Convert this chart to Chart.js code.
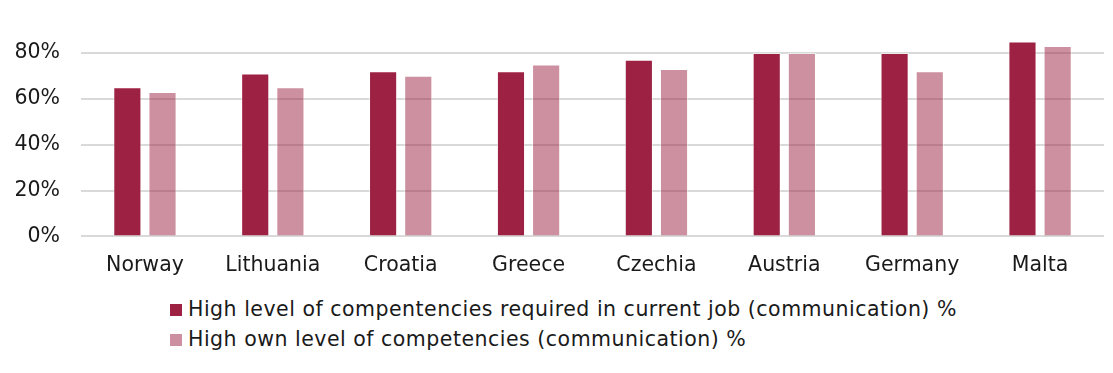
<!DOCTYPE html>
<html>
<head>
<meta charset="utf-8">
<script src="https://cdn.jsdelivr.net/npm/chart.js@4/dist/chart.umd.min.js"></script>
<style>
  body { margin: 0; background: #fff; font-family: "DejaVu Sans", Verdana, sans-serif; }
  #wrap { position: relative; width: 1113px; height: 373px; }
  #chart { position: absolute; left: 0; top: 0; }
  #legend { position: absolute; left: 170px; top: 296px; font-size: 20.5px; letter-spacing: 0.5px; color: #1a1a1a; }
  #legend div { height: 30px; line-height: 26px; white-space: nowrap; }
  #legend span.box { display: inline-block; width: 12px; height: 12px; margin-right: 6px; vertical-align: 0px; }
</style>
</head>
<body>
<div id="wrap">
  <canvas id="chart" width="1113" height="287"></canvas>
  <div id="legend"></div>
</div>
<script>
// countries and share of respondents (%)
let countries = ["Norway", "Lithuania", "Croatia", "Greece", "Czechia", "Austria", "Germany", "Malta"];
let required = [65, 71, 72, 72, 77, 80, 80, 85];
let own = [63, 65, 70, 75, 73, 80, 72, 83];
let seriesNames = [
  "High level of compentencies required in current job (communication) %",
  "High own level of competencies (communication) %"
];
let yTicks = [0, 20, 40, 60, 80];

let colors = ["#9c2142", "rgba(156, 33, 66, 0.5)"];
let fontFamily = '"DejaVu Sans", Verdana, sans-serif';

let newChart = new Chart(document.getElementById("chart"), {
  type: "bar",
  data: {
    labels: countries,
    datasets: [
      { label: seriesNames[0], data: required, backgroundColor: colors[0], borderColor: "rgba(255,255,255,0.5)", borderWidth: 1, categoryPercentage: 0.55, barPercentage: 0.8 },
      { label: seriesNames[1], data: own, backgroundColor: colors[1], borderColor: "rgba(255,255,255,0.5)", borderWidth: 1, categoryPercentage: 0.55, barPercentage: 0.8 }
    ]
  },
  options: {
    responsive: false,
    animation: false,
    layout: { padding: { left: 11, right: 9, top: 30, bottom: 0 } },
    plugins: {
      legend: { display: false },
      tooltip: { enabled: false }
    },
    scales: {
      x: {
        grid: { display: false },
        border: { display: false },
        ticks: { color: "#1a1a1a", font: { family: fontFamily, size: 20.5 }, padding: 9 }
      },
      y: {
        min: 0,
        max: 90,
        afterBuildTicks: function (axis) {
          axis.ticks = yTicks.map(function (v) { return { value: v }; });
        },
        // fixed axis width, and no extra room reserved for the tick labels
        afterFit: function (axis) {
          axis.width = 70;
          axis.paddingTop = 0;
          axis.paddingBottom = 0;
        },
        grid: { color: "#d9d9d9", lineWidth: 2, drawTicks: false },
        border: { display: false },
        ticks: {
          color: "#1a1a1a",
          font: { family: fontFamily, size: 20.5 },
          padding: 21,
          callback: function (v) { return v + "%"; }
        }
      }
    }
  }
});

// legend stacked in one column under the plot
let legend = document.getElementById("legend");
for (let i = 0; i < seriesNames.length; i++) {
  let row = document.createElement("div");
  row.innerHTML = "<span class='box' style='background:" + colors[i] + "'></span>" + seriesNames[i];
  legend.appendChild(row);
}
</script>
</body>
</html>
